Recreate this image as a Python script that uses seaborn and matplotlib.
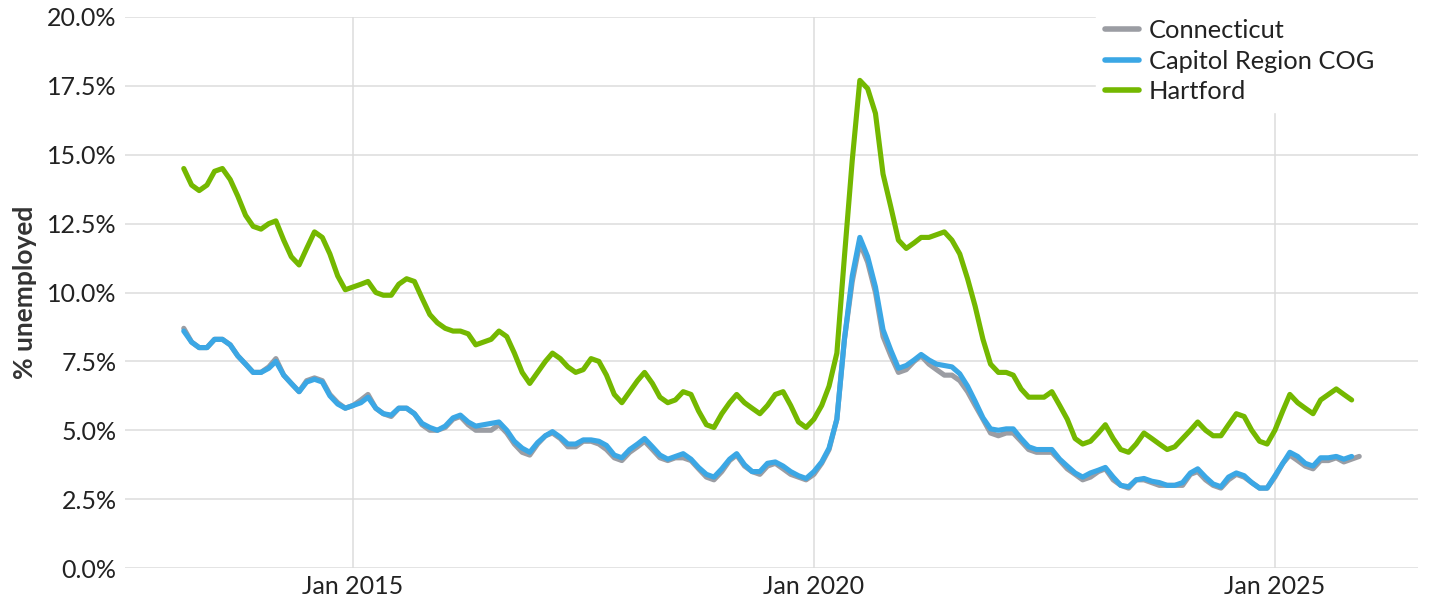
import pandas as pd
import numpy as np
import matplotlib
matplotlib.use("Agg")
import matplotlib.pyplot as plt
import matplotlib.dates as mdates
from matplotlib.ticker import FuncFormatter
import seaborn as sns

# monthly unemployment rate, Mar 2013 onwards
months_ct = pd.date_range("2013-03-01", periods=154, freq="MS")

connecticut = [
    8.7, 8.2, 8.0, 8.0, 8.3, 8.3, 8.1, 7.7, 7.4, 7.1, 7.1, 7.3, 7.6, 7.0, 6.7, 6.4,
    6.8, 6.9, 6.8, 6.3, 6.0, 5.8, 5.9, 6.1, 6.3, 5.8, 5.6, 5.5, 5.8, 5.8, 5.6, 5.2,
    5.0, 5.0, 5.1, 5.4, 5.5, 5.2, 5.0, 5.0, 5.0, 5.2, 4.9, 4.5, 4.2, 4.1, 4.5, 4.8,
    4.9, 4.7, 4.4, 4.4, 4.6, 4.6, 4.5, 4.3, 4.0, 3.9, 4.2, 4.4, 4.6, 4.3, 4.0, 3.9,
    4.0, 4.0, 3.9, 3.6, 3.3, 3.2, 3.5, 3.9, 4.1, 3.7, 3.5, 3.4, 3.7, 3.8, 3.6, 3.4,
    3.3, 3.2, 3.4, 3.8, 4.3, 5.4, 8.3, 10.4, 11.8, 11.1, 10.0, 8.4, 7.7, 7.1, 7.2, 7.5,
    7.7, 7.4, 7.2, 7.0, 7.0, 6.8, 6.4, 5.9, 5.4, 4.9, 4.8, 4.9, 4.9, 4.6, 4.3, 4.2,
    4.2, 4.2, 3.9, 3.6, 3.4, 3.2, 3.3, 3.5, 3.6, 3.2, 3.0, 2.9, 3.2, 3.2, 3.1, 3.0,
    3.0, 3.0, 3.0, 3.4, 3.5, 3.2, 3.0, 2.9, 3.2, 3.4, 3.3, 3.1, 2.9, 2.9, 3.3, 3.8,
    4.1, 3.9, 3.7, 3.6, 3.9, 3.9, 4.0, 3.85, 3.95, 4.05,
]

capitol_region = [
    8.6, 8.2, 8.0, 8.0, 8.3, 8.3, 8.1, 7.7, 7.4, 7.1, 7.1, 7.25, 7.5, 7.0, 6.7, 6.4,
    6.75, 6.85, 6.75, 6.25, 5.95, 5.8, 5.9, 6.0, 6.2, 5.8, 5.6, 5.55, 5.8, 5.8, 5.6, 5.25,
    5.1, 5.0, 5.15, 5.45, 5.55, 5.3, 5.15, 5.2, 5.25, 5.3, 5.0, 4.6, 4.35, 4.2, 4.55, 4.8,
    4.95, 4.75, 4.5, 4.5, 4.65, 4.65, 4.6, 4.45, 4.1, 4.0, 4.3, 4.5, 4.7, 4.4, 4.1, 3.95,
    4.05, 4.15, 3.95, 3.65, 3.4, 3.3, 3.6, 3.95, 4.15, 3.75, 3.5, 3.5, 3.8, 3.85, 3.7, 3.5,
    3.35, 3.25, 3.5, 3.85, 4.35, 5.4, 8.3, 10.6, 12.0, 11.3, 10.2, 8.65, 7.9, 7.25, 7.35, 7.55,
    7.75, 7.55, 7.4, 7.35, 7.3, 7.05, 6.6, 6.05, 5.45, 5.05, 5.0, 5.05, 5.05, 4.7, 4.4, 4.3,
    4.3, 4.3, 3.95, 3.7, 3.45, 3.3, 3.45, 3.55, 3.65, 3.3, 3.0, 2.95, 3.2, 3.25, 3.15, 3.1,
    3.0, 3.0, 3.1, 3.45, 3.6, 3.3, 3.05, 2.95, 3.3, 3.45, 3.35, 3.1, 2.9, 2.9, 3.35, 3.8,
    4.2, 4.05, 3.8, 3.7, 4.0, 4.0, 4.05, 3.95, 4.05,
]

hartford = [
    14.5, 13.9, 13.7, 13.9, 14.4, 14.5, 14.1, 13.5, 12.8, 12.4, 12.3, 12.5, 12.6, 11.9, 11.3, 11.0,
    11.6, 12.2, 12.0, 11.4, 10.6, 10.1, 10.2, 10.3, 10.4, 10.0, 9.9, 9.9, 10.3, 10.5, 10.4, 9.8,
    9.2, 8.9, 8.7, 8.6, 8.6, 8.5, 8.1, 8.2, 8.3, 8.6, 8.4, 7.8, 7.1, 6.7, 7.1, 7.5,
    7.8, 7.6, 7.3, 7.1, 7.2, 7.6, 7.5, 7.0, 6.3, 6.0, 6.4, 6.8, 7.1, 6.7, 6.2, 6.0,
    6.1, 6.4, 6.3, 5.7, 5.2, 5.1, 5.6, 6.0, 6.3, 6.0, 5.8, 5.6, 5.9, 6.3, 6.4, 5.9,
    5.3, 5.1, 5.4, 5.9, 6.6, 7.8, 11.3, 14.8, 17.7, 17.4, 16.5, 14.3, 13.1, 11.9, 11.6, 11.8,
    12.0, 12.0, 12.1, 12.2, 11.9, 11.4, 10.5, 9.5, 8.3, 7.4, 7.1, 7.1, 7.0, 6.5, 6.2, 6.2,
    6.2, 6.4, 5.9, 5.4, 4.7, 4.5, 4.6, 4.9, 5.2, 4.7, 4.3, 4.2, 4.5, 4.9, 4.7, 4.5,
    4.3, 4.4, 4.7, 5.0, 5.3, 5.0, 4.8, 4.8, 5.2, 5.6, 5.5, 5.0, 4.6, 4.5, 5.0, 5.7,
    6.3, 6.0, 5.8, 5.6, 6.1, 6.3, 6.5, 6.3, 6.1,
]

series_names = ["Connecticut", "Capitol Region COG", "Hartford"]
series_colors = ["#9b9da3", "#3ba7e5", "#74b800"]

frames = []
for name, vals in zip(series_names, [connecticut, capitol_region, hartford]):
    frames.append(pd.DataFrame({"date": months_ct[:len(vals)], "rate": vals, "area": name}))
df = pd.concat(frames, ignore_index=True)

sns.set_style("white")
plt.rcParams["font.family"] = ["Lato", "DejaVu Sans"]

fig = plt.figure(figsize=(14.29, 6.03), dpi=100)
ax = fig.add_axes([125 / 1429, 35 / 603, 1293 / 1429, 551 / 603])

sns.lineplot(data=df, x="date", y="rate", hue="area", hue_order=series_names,
             palette=series_colors, linewidth=3.7, ax=ax, legend=True)

# x limits with 5% padding like the original
span = months_ct[-1] - months_ct[0]
ax.set_xlim(months_ct[0] - span * 0.05, months_ct[-1] + span * 0.05)
ax.set_ylim(0, 20)

ax.set_yticks(np.arange(0, 20.1, 2.5))
ax.yaxis.set_major_formatter(FuncFormatter(lambda v, p: f"{v:.1f}%"))
ax.set_xticks(pd.to_datetime(["2015-01-01", "2020-01-01", "2025-01-01"]))
ax.xaxis.set_major_formatter(mdates.DateFormatter("%b %Y"))

ax.grid(True, color="#dcdcdc", linewidth=1.1)
for s in ax.spines.values():
    s.set_visible(False)
ax.tick_params(axis="both", length=0, labelsize=18, labelcolor="#222222")
ax.tick_params(axis="y", pad=6)
ax.tick_params(axis="x", pad=5)

ax.set_xlabel("")
ax.set_ylabel("% unemployed", fontsize=19, fontweight="bold", color="#333333")
ax.yaxis.set_label_coords(-88 / 1293, 0.5)

handles, labels = ax.get_legend_handles_labels()
for h in handles:
    h.set_linewidth(4)
# white legend box spanning to the right edge, hiding the grid behind it
leg = ax.legend(handles, labels, loc="upper left", mode="expand",
                bbox_to_anchor=(1096 / 1429, 1 - 10 / 603, 324 / 1429, 0),
                bbox_transform=fig.transFigure, frameon=True, fontsize=18.3,
                handlelength=1.34, handletextpad=0.4, labelspacing=0.3,
                borderpad=0.35, borderaxespad=0)
leg.get_frame().set_facecolor("white")
leg.get_frame().set_edgecolor("white")
leg.get_frame().set_alpha(1)
leg.get_frame().set_boxstyle("square", pad=0)
for t in leg.get_texts():
    t.set_color("#222222")

fig.savefig("out.png", dpi=100)
